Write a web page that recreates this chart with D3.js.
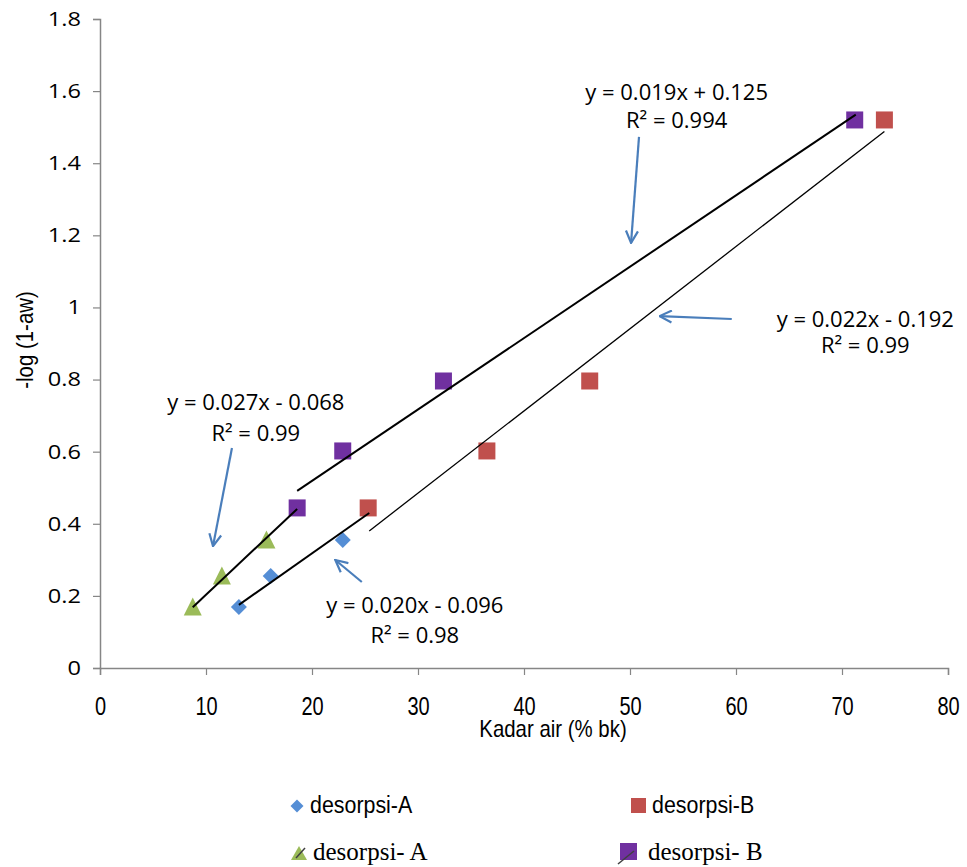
<!DOCTYPE html>
<meta charset="utf-8">
<script src="https://d3js.org/d3.v7.js"></script>
<style>
  body { margin: 0; background: #fff; }
  svg { display: block; }
</style>
<div id="my_dataviz"></div>
<script>

// series
var desA_x  = [13.1, 16.1, 22.9],        desA_y  = [0.169, 0.255, 0.355];
var desB_x  = [25.3, 36.5, 46.2, 74.0],  desB_y  = [0.444, 0.602, 0.796, 1.520];
var desA2_x = [8.75, 11.5, 15.7],        desA2_y = [0.169, 0.255, 0.355];
var desB2_x = [18.6, 22.9, 32.4, 71.2],  desB2_y = [0.444, 0.602, 0.796, 1.520];

// trend lines as drawn: [slope, intercept, xstart, xend]
var trendA2 = [0.0277, -0.074, 8.75, 18.6];
var trendA  = [0.0207, -0.096, 13.1, 25.4];
var trendB2 = [0.0198,  0.123, 18.6, 71.3];
var trendB  = [0.0228, -0.199, 25.4, 74.0];

var xTicks = [0, 10, 20, 30, 40, 50, 60, 70, 80];
var yTicks = [0, 0.2, 0.4, 0.6, 0.8, 1, 1.2, 1.4, 1.6, 1.8];

// equation labels: [text line 1, text line 2, x, y(line 1 baseline), y(line 2 baseline)]
var labels = [
  ["y = 0.019x + 0.125", "R² = 0.994", 54.4, 1.575, 1.498],
  ["y = 0.022x - 0.192", "R² = 0.99",  72.2, 0.947, 0.873],
  ["y = 0.027x - 0.068", "R² = 0.99",  14.7, 0.716, 0.630],
  ["y = 0.020x - 0.096", "R² = 0.98",  29.7, 0.153, 0.069]
];
// arrows: [x from, y from, x to, y to]
var arrows = [
  [50.85, 1.473, 50.1, 1.179],
  [59.6, 0.968, 52.8, 0.976],
  [12.45, 0.610, 10.66, 0.338],
  [24.7, 0.2385, 22.2, 0.2995]
];

var blue = "#558ed5", red = "#c0504d", green = "#9bbb59", purple = "#7030a0",
    axisGrey = "#868686", arrowBlue = "#4a7ebb";

var width = 967, height = 867;

var x = d3.scaleLinear().domain([0, 80]).range([100, 948]);
var y = d3.scaleLinear().domain([0, 1.8]).range([668, 19]);

// squeeze or stretch text horizontally
function squeeze(sel, k) {
  sel.each(function() {
    var w = this.getComputedTextLength();
    d3.select(this).attr("textLength", w * k).attr("lengthAdjust", "spacingAndGlyphs");
  });
}

var svg = d3.select("#my_dataviz").append("svg")
    .attr("width", width)
    .attr("height", height);

svg.append("defs").append("marker")
    .attr("id", "openArrow")
    .attr("markerUnits", "userSpaceOnUse")
    .attr("viewBox", "0 0 14 14")
    .attr("refX", 13).attr("refY", 7)
    .attr("markerWidth", 14).attr("markerHeight", 14)
    .attr("orient", "auto")
  .append("path")
    .attr("d", "M1,1 L13,7 L1,13")
    .attr("fill", "none")
    .attr("stroke", arrowBlue)
    .attr("stroke-width", 2.2);

// axes
var yAxis = d3.axisLeft(y).tickValues(yTicks).tickSize(7).tickPadding(12)
    .tickFormat(function(d) { return d3.format("")(+d.toFixed(1)); });
var xAxis = d3.axisBottom(x).tickValues(xTicks).tickSize(7).tickPadding(22);

var gy = svg.append("g").attr("transform", "translate(100,0)").call(yAxis);
var gx = svg.append("g").attr("transform", "translate(0,668)").call(xAxis);

[gx, gy].forEach(function(g) {
  g.select(".domain").attr("stroke", axisGrey).attr("stroke-width", 1.5);
  g.selectAll(".tick line").attr("stroke", axisGrey).attr("stroke-width", 1.2);
});
gy.selectAll(".tick text")
    .style("font-family", "'Open Sans', sans-serif")
    .style("font-size", "20px")
    .attr("fill", "#000")
    .call(squeeze, 1.18);
gx.selectAll(".tick text")
    .style("font-family", "'Liberation Sans', Arial, sans-serif")
    .style("font-size", "25px")
    .attr("fill", "#000")
    .call(squeeze, 0.8);

svg.append("text")
    .attr("x", 553).attr("y", 737)
    .attr("text-anchor", "middle")
    .style("font-family", "'Liberation Sans', Arial, sans-serif")
    .style("font-size", "24px")
    .text("Kadar air (% bk)")
    .call(squeeze, 0.85);

svg.append("text")
    .attr("transform", "translate(33,340)rotate(-90)")
    .attr("text-anchor", "middle")
    .style("font-family", "'Liberation Sans', Arial, sans-serif")
    .style("font-size", "24px")
    .text("-log (1-aw)")
    .call(squeeze, 0.85);

// markers
function pts(xs, ys) { return xs.map(function(v, i) { return [v, ys[i]]; }); }

svg.selectAll(".diamond")
  .data(pts(desA_x, desA_y))
  .enter().append("path")
    .attr("transform", function(d) { return "translate(" + x(d[0]) + "," + y(d[1]) + ")"; })
    .attr("d", "M0,-8 L8,0 L0,8 L-8,0 Z")
    .attr("fill", blue);

svg.selectAll(".sqB")
  .data(pts(desB_x, desB_y))
  .enter().append("rect")
    .attr("x", function(d) { return x(d[0]) - 8.5; })
    .attr("y", function(d) { return y(d[1]) - 8.5; })
    .attr("width", 17).attr("height", 17)
    .attr("fill", red);

svg.selectAll(".tri")
  .data(pts(desA2_x, desA2_y))
  .enter().append("path")
    .attr("transform", function(d) { return "translate(" + x(d[0]) + "," + y(d[1]) + ")"; })
    .attr("d", "M0,-9.5 L9,8.5 L-9,8.5 Z")
    .attr("fill", green);

svg.selectAll(".sqB2")
  .data(pts(desB2_x, desB2_y))
  .enter().append("rect")
    .attr("x", function(d) { return x(d[0]) - 8.5; })
    .attr("y", function(d) { return y(d[1]) - 8.5; })
    .attr("width", 17).attr("height", 17)
    .attr("fill", purple);

// trend lines
var trends = [[trendA2, 2], [trendA, 2], [trendB2, 2], [trendB, 1.3]];
svg.selectAll(".trend")
  .data(trends)
  .enter().append("line")
    .attr("x1", function(d) { return x(d[0][2]); })
    .attr("y1", function(d) { return y(d[0][0] * d[0][2] + d[0][1]); })
    .attr("x2", function(d) { return x(d[0][3]); })
    .attr("y2", function(d) { return y(d[0][0] * d[0][3] + d[0][1]); })
    .attr("stroke", "#000")
    .attr("stroke-width", function(d) { return d[1]; });

// arrows
svg.selectAll(".arrow")
  .data(arrows)
  .enter().append("line")
    .attr("x1", function(d) { return x(d[0]); })
    .attr("y1", function(d) { return y(d[1]); })
    .attr("x2", function(d) { return x(d[2]); })
    .attr("y2", function(d) { return y(d[3]); })
    .attr("stroke", arrowBlue)
    .attr("stroke-width", 2.2)
    .attr("marker-end", "url(#openArrow)");

// equation labels
var lab = svg.selectAll(".lab").data(labels).enter().append("g");
lab.append("text")
    .attr("x", function(d) { return x(d[2]); })
    .attr("y", function(d) { return y(d[3]); })
    .attr("text-anchor", "middle")
    .style("font-family", "'Open Sans', sans-serif")
    .style("font-size", "22px")
    .text(function(d) { return d[0]; });
lab.append("text")
    .attr("x", function(d) { return x(d[2]); })
    .attr("y", function(d) { return y(d[4]); })
    .attr("text-anchor", "middle")
    .style("font-family", "'Open Sans', sans-serif")
    .style("font-size", "22px")
    .text(function(d) { return d[1]; });

// legend
var legend = svg.append("g");
legend.append("path")
    .attr("transform", "translate(297,806)")
    .attr("d", "M0,-6.5 L6.5,0 L0,6.5 L-6.5,0 Z")
    .attr("fill", blue);
legend.append("text")
    .attr("x", 310).attr("y", 813)
    .style("font-family", "'Liberation Sans', Arial, sans-serif")
    .style("font-size", "23px")
    .text("desorpsi-A")
    .call(squeeze, 0.93);

legend.append("rect")
    .attr("x", 631).attr("y", 798).attr("width", 15).attr("height", 15)
    .attr("fill", red);
legend.append("text")
    .attr("x", 652).attr("y", 813)
    .style("font-family", "'Liberation Sans', Arial, sans-serif")
    .style("font-size", "23px")
    .text("desorpsi-B")
    .call(squeeze, 0.93);

legend.append("path")
    .attr("transform", "translate(299,853)")
    .attr("d", "M0,-7 L8,7 L-8,7 Z")
    .attr("fill", green);
legend.append("line")
    .attr("x1", 296).attr("y1", 858).attr("x2", 305).attr("y2", 848)
    .attr("stroke", "#404040").attr("stroke-width", 1.5);
legend.append("text")
    .attr("x", 313).attr("y", 860)
    .style("font-family", "'Liberation Serif', 'Times New Roman', serif")
    .style("font-size", "25px")
    .text("desorpsi- A");

legend.append("rect")
    .attr("x", 620).attr("y", 843).attr("width", 17).attr("height", 17)
    .attr("fill", purple);
legend.append("line")
    .attr("x1", 618).attr("y1", 864).attr("x2", 634).attr("y2", 851)
    .attr("stroke", "#404040").attr("stroke-width", 1.5);
legend.append("text")
    .attr("x", 648).attr("y", 860)
    .style("font-family", "'Liberation Serif', 'Times New Roman', serif")
    .style("font-size", "25px")
    .text("desorpsi- B");

</script>
